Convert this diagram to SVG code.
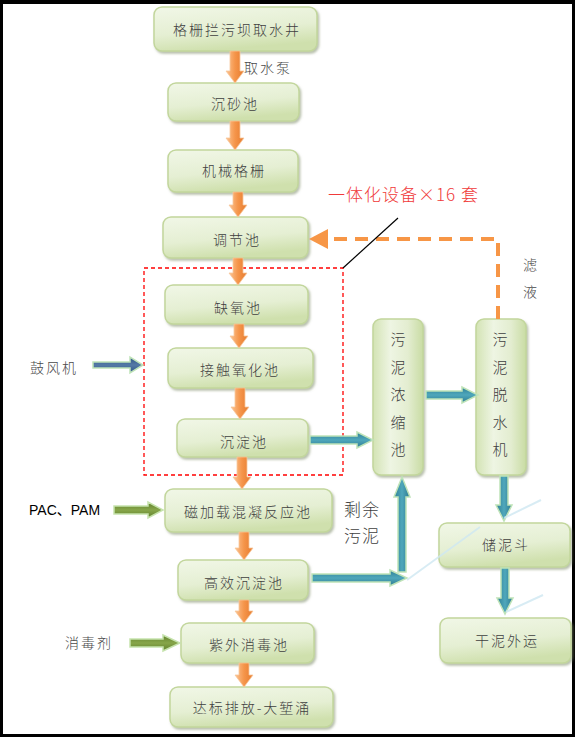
<svg xmlns="http://www.w3.org/2000/svg" width="575" height="737" viewBox="0 0 575 737">
<defs>
  <linearGradient id="gNode" x1="0" y1="0" x2="0.3" y2="1">
    <stop offset="0" stop-color="#f1f7e7"/>
    <stop offset="0.6" stop-color="#e5efd3"/>
    <stop offset="1" stop-color="#cfe0ad"/>
  </linearGradient>
  <linearGradient id="gTall" x1="0" y1="0" x2="1" y2="0">
    <stop offset="0" stop-color="#d3e3b4"/>
    <stop offset="0.35" stop-color="#eef5e3"/>
    <stop offset="0.7" stop-color="#e3edd0"/>
    <stop offset="1" stop-color="#c9dca4"/>
  </linearGradient>
  <linearGradient id="gOrange" x1="0" y1="0" x2="1" y2="0">
    <stop offset="0" stop-color="#fcc493"/>
    <stop offset="0.5" stop-color="#f5954a"/>
    <stop offset="1" stop-color="#e57a2e"/>
  </linearGradient>
  <linearGradient id="gTealH" x1="0" y1="0" x2="0" y2="1">
    <stop offset="0" stop-color="#2e7f95"/>
    <stop offset="0.5" stop-color="#4fa7bb"/>
    <stop offset="1" stop-color="#2c7a90"/>
  </linearGradient>
  <linearGradient id="gTealV" x1="0" y1="0" x2="1" y2="0">
    <stop offset="0" stop-color="#2e7f95"/>
    <stop offset="0.5" stop-color="#4fa7bb"/>
    <stop offset="1" stop-color="#2c7a90"/>
  </linearGradient>
  <linearGradient id="gBlue" x1="0" y1="0" x2="0" y2="1">
    <stop offset="0" stop-color="#2f5585"/>
    <stop offset="0.5" stop-color="#5479a6"/>
    <stop offset="1" stop-color="#2f5585"/>
  </linearGradient>
  <linearGradient id="gGreen" x1="0" y1="0" x2="0" y2="1">
    <stop offset="0" stop-color="#5f7f2b"/>
    <stop offset="0.5" stop-color="#87a64a"/>
    <stop offset="1" stop-color="#5f7f2b"/>
  </linearGradient>
  <filter id="sh" x="-10%" y="-10%" width="130%" height="140%">
    <feDropShadow dx="1.5" dy="2" stdDeviation="1.2" flood-color="#7f8f6a" flood-opacity="0.55"/>
  </filter>
  <style>
    .node { fill: url(#gNode); stroke: #c2d69c; stroke-width: 1.5; filter: url(#sh); }
    .tall { fill: url(#gTall); stroke: #c2d69c; stroke-width: 1.5; filter: url(#sh); }
    .t { font-family: "Noto Sans CJK SC", sans-serif; font-weight: 300; font-size: 14px; fill: #3f3f3f; letter-spacing: 2px; text-anchor: middle; }
    .tv { font-family: "Noto Sans CJK SC", sans-serif; font-weight: 300; font-size: 15px; fill: #3f3f3f; text-anchor: middle; }
    .lbl { font-family: "Noto Sans CJK SC", sans-serif; font-weight: 300; font-size: 14px; fill: #4a4a4a; letter-spacing: 2px; }
    .oa { fill: url(#gOrange); stroke: #f8c89c; stroke-width: 0.8; }
    .th { fill: url(#gTealH); stroke: #bfe3b8; stroke-width: 1.5; }
    .tvv { fill: url(#gTealV); stroke: #bfe3b8; stroke-width: 1.5; }
    .refl { stroke: #cfe8f2; stroke-width: 2; opacity: 0.8; }
  </style>
</defs>

<rect x="0" y="0" width="575" height="737" fill="#000"/>
<rect x="3" y="4" width="569" height="730" fill="#fff"/>

<rect id="integrated-box" x="144" y="268" width="199" height="207" fill="none" stroke="#ff0000" stroke-width="1.3" stroke-dasharray="4 3"/>

<g id="n1"><rect class="node" x="154" y="7" width="163" height="44" rx="8"/><text class="t" x="237" y="35">格栅拦污坝取水井</text></g>
<g id="n2"><rect class="node" x="168" y="83" width="131" height="38" rx="8"/><text class="t" x="235" y="109">沉砂池</text></g>
<g id="n3"><rect class="node" x="168" y="150" width="130" height="42" rx="8"/><text class="t" x="234" y="176">机械格栅</text></g>
<g id="n4"><rect class="node" x="163" y="217" width="145" height="41" rx="8"/><text class="t" x="237" y="245">调节池</text></g>
<g id="n5"><rect class="node" x="165" y="285" width="143" height="39" rx="8"/><text class="t" x="238" y="313">缺氧池</text></g>
<g id="n6"><rect class="node" x="168" y="348" width="145" height="40" rx="8"/><text class="t" x="240" y="375">接触氧化池</text></g>
<g id="n7"><rect class="node" x="177" y="419" width="131" height="38" rx="8"/><text class="t" x="244" y="447">沉淀池</text></g>
<g id="n8"><rect class="node" x="165" y="489" width="167" height="43" rx="8"/><text class="t" x="248" y="517">磁加载混凝反应池</text></g>
<g id="n9"><rect class="node" x="178" y="560" width="130" height="40" rx="8"/><text class="t" x="244" y="588">高效沉淀池</text></g>
<g id="n10"><rect class="node" x="181" y="623" width="133" height="40" rx="8"/><text class="t" x="249" y="650">紫外消毒池</text></g>
<g id="n11"><rect class="node" x="170" y="687" width="163" height="40" rx="8"/><text class="t" x="252" y="713">达标排放-大堑涌</text></g>
<g id="n12"><rect class="tall" x="373" y="319" width="50" height="156" rx="8"/>
  <text class="tv" x="398" y="345">污</text><text class="tv" x="398" y="373">泥</text><text class="tv" x="398" y="400">浓</text><text class="tv" x="398" y="428">缩</text><text class="tv" x="398" y="455">池</text></g>
<g id="n13"><rect class="tall" x="476" y="319" width="50" height="156" rx="8"/>
  <text class="tv" x="500" y="345">污</text><text class="tv" x="500" y="373">泥</text><text class="tv" x="500" y="400">脱</text><text class="tv" x="500" y="428">水</text><text class="tv" x="500" y="455">机</text></g>
<g id="n14"><rect class="node" x="439" y="523" width="131" height="44" rx="8"/><text class="t" x="506" y="550">储泥斗</text></g>
<g id="n15"><rect class="node" x="440" y="618" width="131" height="45" rx="8"/><text class="t" x="507" y="646">干泥外运</text></g>

<g id="connectors">
  <path class="oa" d="M230,51 H240 V71 H244 L235,83 L226,71 H230 Z"/>
  <path class="oa" d="M230,121 H240 V138 H244 L235,150 L226,138 H230 Z"/>
  <path class="oa" d="M233,192 H243 V205 H247 L238,217 L229,205 H233 Z"/>
  <path class="oa" d="M233,258 H243 V273 H247 L238,285 L229,273 H233 Z"/>
  <path class="oa" d="M234,324 H244 V336 H248 L239,348 L230,336 H234 Z"/>
  <path class="oa" d="M235,388 H245 V407 H249 L240,419 L231,407 H235 Z"/>
  <path class="oa" d="M237,457 H247 V477 H251 L242,489 L233,477 H237 Z"/>
  <path class="oa" d="M239,532 H249 V548 H253 L244,560 L235,548 H239 Z"/>
  <path class="oa" d="M239,600 H249 V611 H253 L244,623 L235,611 H239 Z"/>
  <path class="oa" d="M239,663 H249 V675 H253 L244,687 L235,675 H239 Z"/>

  <path class="th" d="M310,436 H357 V432 L373,440 L357,448 V444 H310 Z"/>
  <path class="th" d="M426,391 H462 V387 L478,395 L462,403 V399 H426 Z"/>
  <path class="th" d="M312,574 H390 V570 L407,578 L390,586 V582 H312 Z"/>
  <path class="tvv" d="M398,572 V497 H394 L402,477 L410,497 H406 V572 Z"/>
  <path class="tvv" d="M500,476 V505 H496 L504,521 L512,505 H508 V476 Z"/>
  <path class="tvv" d="M501,568 V598 H497 L505,614 L513,598 H509 V568 Z"/>

  <path d="M93,362 H130 V357 L143,365 L130,373 V368 H93 Z" fill="url(#gBlue)" stroke="#bfe3b8" stroke-width="1.5"/>
  <path d="M114,506 H148 V502 L163,510 L148,518 V514 H114 Z" fill="url(#gGreen)" stroke="#c6e3ad" stroke-width="1.5"/>
  <path d="M130,639 H163 V635 L180,643 L163,651 V647 H130 Z" fill="url(#gGreen)" stroke="#c6e3ad" stroke-width="1.5"/>

  <line class="refl" x1="407" y1="580" x2="480" y2="527"/>
  <line class="refl" x1="504" y1="518" x2="541" y2="500"/>
  <line class="refl" x1="506" y1="612" x2="543" y2="595"/>

  <path d="M498,319 V239 H328" fill="none" stroke="#f79646" stroke-width="4" stroke-dasharray="13 8"/>
  <polygon points="309,239 328,229 328,249" fill="#f79646"/>
  <line x1="398" y1="218" x2="343" y2="268" stroke="#000" stroke-width="1.2"/>
</g>

<g id="labels">
  <text class="lbl" x="244" y="73">取水泵</text>
  <text class="lbl" x="30" y="373">鼓风机</text>
  <text x="29" y="515" font-family="Liberation Sans, 'Noto Sans CJK SC', sans-serif" font-size="14" fill="#000">PAC、PAM</text>
  <text class="lbl" x="65" y="648">消毒剂</text>
  <text x="344" y="516" font-family="'Noto Sans CJK SC', sans-serif" font-weight="300" font-size="17" fill="#3f3f3f" letter-spacing="1">剩余</text>
  <text x="344" y="542" font-family="'Noto Sans CJK SC', sans-serif" font-weight="300" font-size="17" fill="#3f3f3f" letter-spacing="1">污泥</text>
  <text class="lbl" x="523" y="270">滤</text>
  <text class="lbl" x="523" y="297">液</text>
  <text x="328" y="201" font-family="'Noto Sans CJK SC', sans-serif" font-weight="300" font-size="17" fill="#f03a3a" letter-spacing="1">一体化设备×16 套</text>
</g>
</svg>
